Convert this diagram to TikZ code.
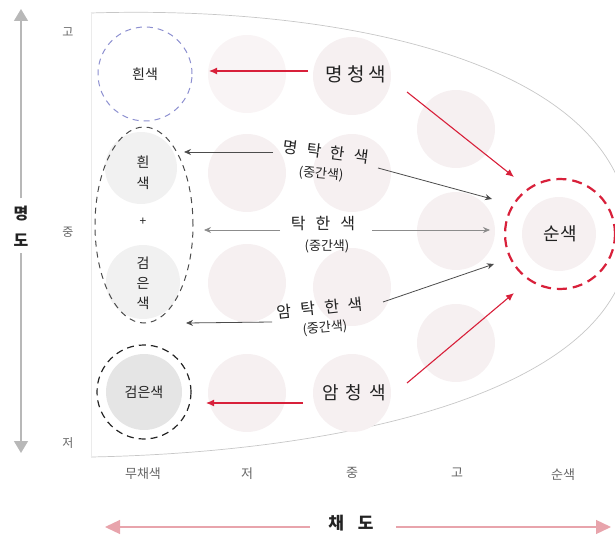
\documentclass[tikz,border=0pt]{standalone}
\usepackage{fontspec}
\setmainfont{Noto Sans CJK KR}
\usetikzlibrary{arrows.meta,shapes.geometric}
\definecolor{ringblue}{HTML}{8C8FD0}
\definecolor{redar}{HTML}{D8203A}
\definecolor{pinkfill}{HTML}{F6F0F1}
\definecolor{greyfill}{HTML}{F1F1F1}
\definecolor{darkfill}{HTML}{E5E5E5}
\definecolor{axisgrey}{HTML}{B8B8B8}
\definecolor{axispink}{HTML}{E8A4AC}
\definecolor{txt}{HTML}{222222}
\definecolor{lbl}{HTML}{666666}
\newcommand{\kfs}[1]{\fontsize{#1}{#1}\selectfont}
\begin{document}
\begin{tikzpicture}[x=1pt,y=-1pt,
  blob/.style={circle,fill=pinkfill,draw=none,minimum size=78pt,inner sep=0pt},
  word/.style={text=txt,inner sep=1pt},
  axlbl/.style={text=lbl,font=\kfs{12},inner sep=0pt},
  redarrow/.style={draw=redar,line width=1.1pt,-{Latex[length=8pt,width=7pt]}},
  darkarrow/.style={draw=black!70,line width=0.8pt,-{Stealth[length=7pt,width=6pt]}},
  greyarrow/.style={draw=black!45,line width=0.8pt,-{Stealth[length=7pt,width=6pt]}},
  ring/.style={circle,dashed,inner sep=0pt}
]
\useasboundingbox (0,0) rectangle (615,537);
\clip (0,0) rectangle (615,537);

% outer boundary
\draw[black!22,line width=0.7pt] (91,13) .. controls (350,5) and (628,65) .. (630,235)
   .. controls (628,390) and (350,452) .. (91,457);
\draw[black!8,line width=0.6pt] (91,13) -- (91,457);

% background circles
\node[blob,fill=pinkfill!70] (c11) at (247,74) {};
\node[blob] (c12) at (247,173) {};
\node[blob] (c13) at (247,283) {};
\node[blob] (c14) at (247,393) {};
\node[blob] (c21) at (352,76) {};
\node[blob] (c22) at (352,173) {};
\node[blob] (c23) at (352,287) {};
\node[blob] (c24) at (352,393) {};
\node[blob] (c31) at (456,129) {};
\node[blob] (c32) at (456,231) {};
\node[blob] (c33) at (456,343) {};
\node[blob,minimum size=74pt] (c41) at (559,234) {};
\node[blob,fill=greyfill,minimum size=72pt] (g1) at (141,168) {};
\node[blob,fill=greyfill,minimum size=74pt] (g2) at (143,282) {};
\node[blob,fill=darkfill,minimum size=76pt] (g3) at (144,392) {};

% rings
\node[ring,draw=ringblue,line width=1pt,dash pattern=on 6pt off 5pt,minimum size=94pt,
      font=\kfs{14},text=txt] (white) at (145,74) {흰색};
\node[ellipse,draw=black!70,line width=1pt,dash pattern=on 6pt off 5pt,
      minimum width=98pt,minimum height=196pt,inner sep=0pt] (mix) at (144,225) {};
\node[ring,draw=black!85,line width=1.2pt,dash pattern=on 7pt off 5pt,minimum size=94pt,
      font=\kfs{14},text=txt] (black) at (144,392) {검은색};
\node[ring,draw=redar,line width=2.2pt,dash pattern=on 10pt off 6pt,minimum size=110pt,
      font=\kfs{18},text=txt] (pure) at (560,234) {순색};

% ellipse text
\node[word,font=\kfs{14}] (e1) at (143,162) {흰};
\node[word,font=\kfs{14}] (e2) at (143,183) {색};
\node[word,font=\kfs{12}] (e3) at (143,222) {+};
\node[word,font=\kfs{14}] (e4) at (143,263) {검};
\node[word,font=\kfs{14}] (e5) at (143,283) {은};
\node[word,font=\kfs{14}] (e6) at (143,303) {색};

% middle labels
\node[word,font=\kfs{19}] (mc) at (356,74) {명\hspace{4pt}청\hspace{4pt}색};
\node[word,font=\kfs{16},rotate=-7] (mt) at (326,152) {명\hspace{9pt}탁\hspace{9pt}한\hspace{9pt}색};
\node[word,font=\kfs{13},rotate=-5] (mt2) at (321,174) {(중간색)};
\node[word,font=\kfs{16}] (tt) at (323,224) {탁\hspace{10pt}한\hspace{10pt}색};
\node[word,font=\kfs{13}] (tt2) at (327,246) {(중간색)};
\node[word,font=\kfs{16},rotate=6] (at) at (320,308) {암\hspace{9pt}탁\hspace{9pt}한\hspace{9pt}색};
\node[word,font=\kfs{13},rotate=5] (at2) at (325,328) {(중간색)};
\node[word,font=\kfs{18}] (ac) at (354,393) {암\hspace{7pt}청\hspace{7pt}색};

% arrow end points
\coordinate (a1s) at (308,71);  \coordinate (a1e) at (209,71);
\coordinate (a2s) at (407,92);  \coordinate (a2e) at (514,177);
\coordinate (a3s) at (273,152); \coordinate (a3e) at (184,152);
\coordinate (a4s) at (378,168); \coordinate (a4e) at (492,199);
\coordinate (a5s) at (280,230); \coordinate (a5e) at (204,230);
\coordinate (a6s) at (372,230); \coordinate (a6e) at (490,230);
\coordinate (a7s) at (272,322); \coordinate (a7e) at (186,323);
\coordinate (a8s) at (383,302); \coordinate (a8e) at (494,264);
\coordinate (a9s) at (303,403); \coordinate (a9e) at (206,403);
\coordinate (a10s) at (407,383); \coordinate (a10e) at (514,293);

\draw[redarrow] (a1s) -- (a1e);
\draw[redarrow] (a2s) -- (a2e);
\draw[darkarrow] (a3s) -- (a3e);
\draw[darkarrow] (a4s) -- (a4e);
\draw[greyarrow] (a5s) -- (a5e);
\draw[greyarrow] (a6s) -- (a6e);
\draw[darkarrow] (a7s) -- (a7e);
\draw[darkarrow] (a8s) -- (a8e);
\draw[redarrow] (a9s) -- (a9e);
\draw[redarrow] (a10s) -- (a10e);

% vertical axis
\node[text=txt,font=\kfs{16}\bfseries,inner sep=0pt] (vl1) at (21,214) {명};
\node[text=txt,font=\kfs{16}\bfseries,inner sep=0pt] (vl2) at (21,240) {도};
\coordinate (vtop) at (21,9);
\coordinate (vbot) at (21,453);
\draw[axisgrey,line width=1.3pt,-{Triangle[length=12pt,width=14pt]}] ([yshift=8pt]vl1.north) -- (vtop);
\draw[axisgrey,line width=1.3pt,-{Triangle[length=12pt,width=14pt]}] ([yshift=-7pt]vl2.south) -- (vbot);
\node[axlbl] (y1) at (68,32) {고};
\node[axlbl] (y2) at (68,232) {중};
\node[axlbl] (y3) at (68,443) {저};

% horizontal axis
\node[axlbl,font=\kfs{13}] (x0) at (143,474) {무채색};
\node[axlbl,font=\kfs{13}] (x1) at (247,474) {저};
\node[axlbl,font=\kfs{13}] (x2) at (352,473) {중};
\node[axlbl,font=\kfs{13}] (x3) at (457,473) {고};
\node[axlbl,font=\kfs{13}] (x4) at (563,475) {순색};
\node[text=txt,font=\kfs{17}\bfseries,inner sep=0pt] (hl) at (351,523) {채\hspace{14pt}도};
\coordinate (hleft) at (105,527);
\coordinate (hright) at (611,527);
\draw[axispink,line width=1.3pt,-{Triangle[length=15pt,width=14pt]}] ([xshift=-18pt]hl.west |- hleft) -- (hleft);
\draw[axispink,line width=1.3pt,-{Triangle[length=15pt,width=14pt]}] ([xshift=22pt]hl.east |- hright) -- (hright);
\end{tikzpicture}
\end{document}
